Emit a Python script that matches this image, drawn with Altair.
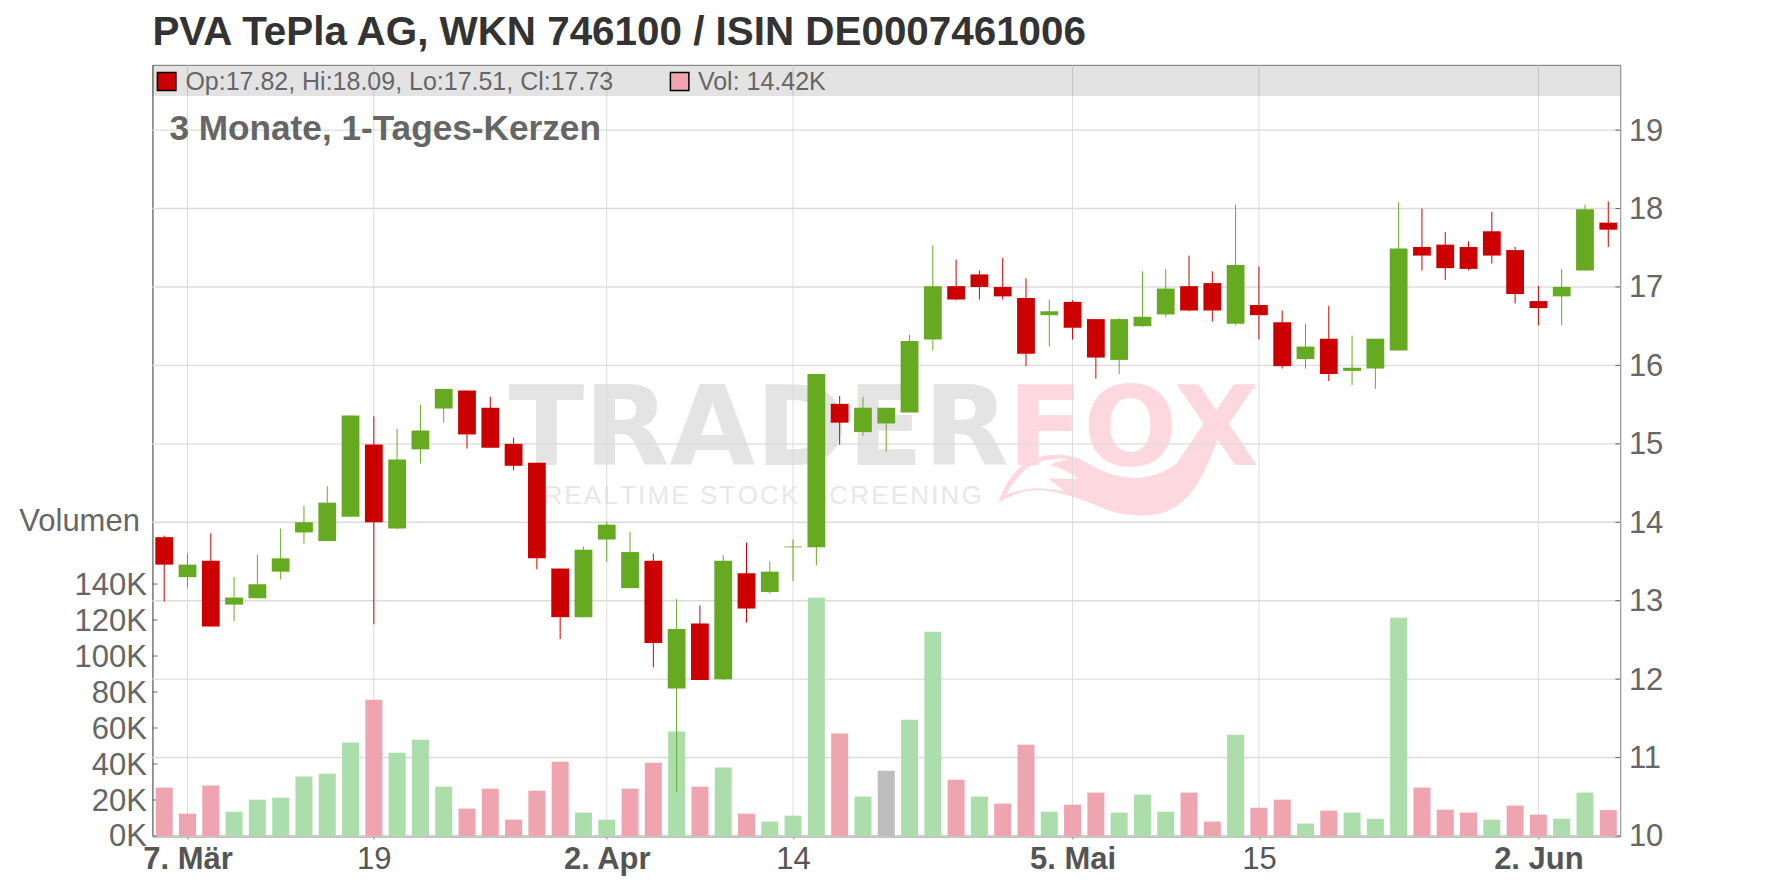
import altair as alt
import pandas as pd

TITLE = "PVA TePla AG, WKN 746100 / ISIN DE0007461006"
SUBTITLE = "3 Monate, 1-Tages-Kerzen"
LEGEND_OHLC = "Op:17.82, Hi:18.09, Lo:17.51, Cl:17.73"
LEGEND_VOL = "Vol: 14.42K"

open_ = [13.81, 13.30, 13.51, 12.95, 13.03, 13.37, 13.87, 13.76, 14.07, 14.99, 13.92, 14.93, 15.45, 15.68, 15.46, 15.00,
         14.76, 13.41, 12.79, 13.78, 13.16, 13.51, 11.88, 12.71, 12.00, 13.35, 13.11, 13.68, 13.68, 15.51, 15.15, 15.26,
         15.40, 16.33, 17.01, 17.16, 17.00, 16.86, 16.64, 16.81, 16.59, 16.07, 16.50, 16.65, 17.01, 17.05, 16.53, 16.77,
         16.55, 16.08, 16.34, 15.93, 15.96, 16.19, 17.51, 17.54, 17.51, 17.71, 17.47, 16.82, 16.88, 17.21, 17.82]
high = [13.83, 13.60, 13.86, 13.30, 13.59, 13.92, 14.21, 14.46, 15.36, 15.35, 15.19, 15.50, 15.70, 15.68, 15.60, 15.08,
        14.76, 13.41, 13.69, 14.01, 13.88, 13.60, 13.02, 12.94, 13.58, 13.74, 13.50, 13.78, 15.89, 15.61, 15.60, 15.46,
        16.39, 17.53, 17.35, 17.21, 17.37, 17.11, 16.84, 16.83, 16.59, 16.60, 17.20, 17.23, 17.40, 17.20, 18.05, 17.26,
        16.70, 16.53, 16.76, 16.38, 16.34, 18.08, 18.00, 17.70, 17.58, 17.96, 17.51, 17.01, 17.23, 18.05, 18.09]
low = [12.99, 13.17, 12.67, 12.74, 13.03, 13.27, 13.73, 13.76, 14.07, 12.70, 13.91, 14.75, 15.27, 14.94, 14.95, 14.66,
       13.40, 12.51, 12.79, 13.50, 13.16, 12.15, 10.56, 11.99, 11.99, 12.72, 13.09, 13.25, 13.45, 14.99, 15.10, 14.90,
       15.40, 16.19, 16.83, 16.84, 16.84, 15.99, 16.24, 16.33, 15.83, 15.89, 16.49, 16.62, 16.69, 16.56, 16.51, 16.33,
       15.96, 15.96, 15.80, 15.75, 15.70, 16.19, 17.21, 17.09, 17.21, 17.30, 16.79, 16.51, 16.51, 17.21, 17.51]
close = [13.46, 13.46, 12.67, 13.04, 13.21, 13.54, 14.00, 14.25, 15.36, 14.00, 14.80, 15.17, 15.70, 15.12, 14.95, 14.72,
         13.54, 12.79, 13.65, 13.97, 13.62, 12.46, 12.64, 11.99, 13.51, 12.90, 13.37, 13.69, 15.89, 15.27, 15.46, 15.46,
         16.31, 17.01, 16.84, 17.00, 16.88, 16.15, 16.69, 16.48, 16.10, 16.59, 16.62, 16.98, 16.70, 16.70, 17.28, 16.64,
         15.99, 16.24, 15.89, 15.97, 16.34, 17.49, 17.40, 17.24, 17.23, 17.40, 16.91, 16.73, 17.00, 17.99, 17.73]
volume = [26.9, 12.4, 28.0, 13.5, 20.2, 21.3, 33.0, 34.6, 51.9, 75.7, 46.3, 53.5, 27.4, 15.2, 26.3, 9.1,
          25.2, 41.3, 13.0, 9.1, 26.3, 40.7, 58.0, 27.4, 38.0, 12.4, 8.0, 11.3, 132.4, 56.9, 21.9, 36.3,
          64.6, 113.5, 31.3, 21.9, 18.0, 50.7, 13.5, 17.4, 24.1, 13.0, 23.0, 13.5, 24.1, 8.0, 56.3, 15.7,
          20.2, 6.9, 14.1, 13.0, 9.6, 121.3, 26.9, 14.6, 13.0, 9.1, 16.9, 11.9, 9.6, 24.1, 14.42]
volume_dir = ["d", "d", "d", "u", "u", "u", "u", "u", "u", "d", "u", "u", "u", "d", "d", "d",
              "d", "d", "u", "u", "d", "d", "u", "d", "u", "d", "u", "u", "u", "d", "u", "n",
              "u", "u", "d", "u", "d", "d", "u", "d", "d", "u", "u", "u", "d", "d", "u", "d",
              "d", "u", "d", "u", "u", "u", "d", "d", "d", "u", "d", "d", "u", "u", "d"]

x_tick_pos = [1, 9, 19, 27, 39, 47, 59]
x_tick_labels = ["7. Mär", "19", "2. Apr", "14", "5. Mai", "15", "2. Jun"]
x_tick_plain = [9, 27, 47]
price_ticks = [10, 11, 12, 13, 14, 15, 16, 17, 18, 19]
volume_ticks = [0, 20, 40, 60, 80, 100, 120, 140]

FOX_TAIL = ("M25,368 C45,310 85,245 150,230 C200,220 245,222 285,245 C330,270 370,292 430,293 "
            "C500,294 560,260 600,215 C650,160 690,90 730,55 C755,35 780,22 810,18 "
            "C775,30 745,60 720,100 C695,145 680,190 660,235 C630,310 590,375 520,398 "
            "C470,412 400,410 340,385 C280,360 230,340 170,332 C120,325 70,340 25,368 Z "
            "M48,345 C90,325 150,318 225,335 L175,295 L265,298 C240,275 210,265 180,255 "
            "C200,245 225,240 240,238 C190,232 140,240 105,270 C80,295 60,320 48,345 Z")

W, H = 1468, 771
FONT = "Liberation Sans"
GRID = "#dcdcdc"
TXT = "#666666"
RED, GREEN = "#cc0000", "#66aa22"

df = pd.DataFrame({"i": range(len(close)), "o": open_, "h": high, "l": low, "c": close,
                   "v": volume, "vd": volume_dir})
df["dir"] = ["u" if c >= o else "d" for o, c in zip(open_, close)]

x_scale = alt.Scale(domain=[-0.507, 62.52], nice=False, zero=False, padding=0)
p_scale = alt.Scale(domain=[10, 19.83], nice=False, zero=False, padding=0)
v_scale = alt.Scale(domain=[0, 428.4], nice=False, zero=False, padding=0)
cand_col = alt.Color("dir:N", legend=None, scale=alt.Scale(domain=["u", "d"], range=[GREEN, RED]))
vol_col = alt.Color("vd:N", legend=None,
                    scale=alt.Scale(domain=["u", "d", "n"], range=["#acdeac", "#efa5b0", "#bdbdbd"]))

label_expr = " : ".join(f"datum.value == {p} ? '{t}'" for p, t in zip(x_tick_pos, x_tick_labels)) + " : ''"
plain_test = " || ".join(f"datum.value == {p}" for p in x_tick_plain)

x_axis = alt.Axis(
    orient="bottom", values=x_tick_pos, title=None, grid=False, domain=True, domainColor="#888888",
    domainWidth=2, tickColor="#888888", tickSize=3, tickWidth=1, labelExpr=label_expr,
    labelFont=FONT, labelFontSize=31, labelPadding=6, labelColor="#555555", labelFlush=False,
    labelOverlap=False,
    labelFontWeight={"condition": {"test": plain_test, "value": "normal"}, "value": "bold"})


def text(s, x, y, **kw):
    return alt.Chart(alt.Data(values=[{}])).mark_text(text=s, **kw).encode(x=alt.value(x), y=alt.value(y))


def box(x, x2, y, y2, **kw):
    return alt.Chart(alt.Data(values=[{}])).mark_rect(**kw).encode(
        x=alt.value(x), x2=alt.value(x2), y=alt.value(y), y2=alt.value(y2))


wm_grey = "#e4e4e4"
wm_pink = "#fdd9df"
watermark = [
    text("TRADER", 356, 400, font="DejaVu Sans", fontWeight="bold", fontSize=111, color=wm_grey, align="left",
         baseline="alphabetic"),
    text("FOX", 855, 400, font="DejaVu Sans", fontWeight="bold", fontSize=111, color=wm_pink, align="left",
         baseline="alphabetic"),
    text("\u200a".join("REALTIME STOCK SCREENING"), 391, 439, font=FONT, fontSize=26, color="#e8e8e8", align="left",
         baseline="alphabetic"),
    alt.Chart(alt.Data(values=[{}])).mark_point(shape=FOX_TAIL, filled=True, color=wm_pink, opacity=1,
                                                size=0.4444).encode(x=alt.value(837.6), y=alt.value(315)),
]

price_df = pd.DataFrame({"p": price_ticks})
vol_df = pd.DataFrame({"t": volume_ticks})
xt_df = pd.DataFrame({"i": x_tick_pos})

h_grid = alt.Chart(price_df).mark_rule(color=GRID, strokeWidth=1.4).encode(
    y=alt.Y("p:Q", scale=p_scale, axis=alt.Axis(
        orient="right", values=price_ticks, title=None, domain=False, ticks=False, grid=False,
        labelFont=FONT, labelFontSize=31, labelColor=TXT, labelPadding=8, labelOffset=1)))
v_grid = alt.Chart(xt_df).mark_rule(color=GRID, strokeWidth=1).encode(
    x=alt.X("i:Q", scale=x_scale, axis=x_axis))

p_ticks = alt.Chart(price_df).mark_rule(color="#666666", strokeWidth=1).encode(
    y=alt.Y("p:Q", scale=p_scale, axis=None), x=alt.value(W - 5), x2=alt.value(W))
v_ticks = alt.Chart(vol_df).mark_rule(color="#666666", strokeWidth=1).encode(
    y=alt.Y("t:Q", scale=v_scale, axis=alt.Axis(
        orient="left", values=volume_ticks, title=None, domain=True, domainColor="#888888", domainWidth=1.5,
        ticks=False, grid=False, labelExpr="datum.value + 'K'", labelFont=FONT, labelFontSize=31,
        labelColor=TXT, labelPadding=6, labelOffset=1)),
    x=alt.value(0), x2=alt.value(5))

vol_bars = alt.Chart(df).mark_bar(size=17).encode(
    x=alt.X("i:Q", scale=x_scale, axis=x_axis),
    y=alt.Y("v:Q", scale=v_scale, axis=None),
    y2=alt.value(H),
    color=vol_col)
wicks = alt.Chart(df).mark_rule(strokeWidth=1).encode(
    x=alt.X("i:Q", scale=x_scale, axis=x_axis),
    y=alt.Y("l:Q", scale=p_scale, axis=None),
    y2="h:Q",
    color=cand_col)
bodies = alt.Chart(df).mark_bar(size=17.8).encode(
    x=alt.X("i:Q", scale=x_scale, axis=x_axis),
    y=alt.Y("o:Q", scale=p_scale, axis=None),
    y2="c:Q",
    color=cand_col)

band = box(0, W, 0, 31, color="#000000", opacity=0.11)
legend = [
    box(5, 23.5, 7.5, 25.5, color=RED, stroke="#000000", strokeWidth=1.5, opacity=1),
    text(LEGEND_OHLC, 33, 17, font=FONT, fontSize=25, color=TXT, align="left", baseline="middle"),
    box(518, 536.5, 7.5, 25.5, color="#efa5b0", stroke="#000000", strokeWidth=1.5, opacity=1),
    text(LEGEND_VOL, 545.5, 17, font=FONT, fontSize=25, color=TXT, align="left", baseline="middle"),
    text(SUBTITLE, 17, 64, font=FONT, fontSize=35.2, fontWeight="bold", color=TXT, align="left", baseline="middle"),
    text("Volumen", -12.5, 457, font=FONT, fontSize=31, color=TXT, align="right", baseline="middle"),
]

chart = alt.layer(
    *watermark, h_grid, v_grid, band, *legend, p_ticks, v_ticks, vol_bars, wicks, bodies
).resolve_scale(y="independent", color="independent").properties(
    width=W, height=H,
    title=alt.TitleParams(TITLE, anchor="start", frame="group", font=FONT, fontSize=40.4, fontWeight="bold",
                          color="#333333", offset=11),
    autosize="none",
    padding={"left": 144.4, "top": 57, "right": 147, "bottom": 43},
).configure_view(stroke="#999999", strokeWidth=1.2)

chart.save("out.html", embed_options={"renderer": "svg", "actions": False})
